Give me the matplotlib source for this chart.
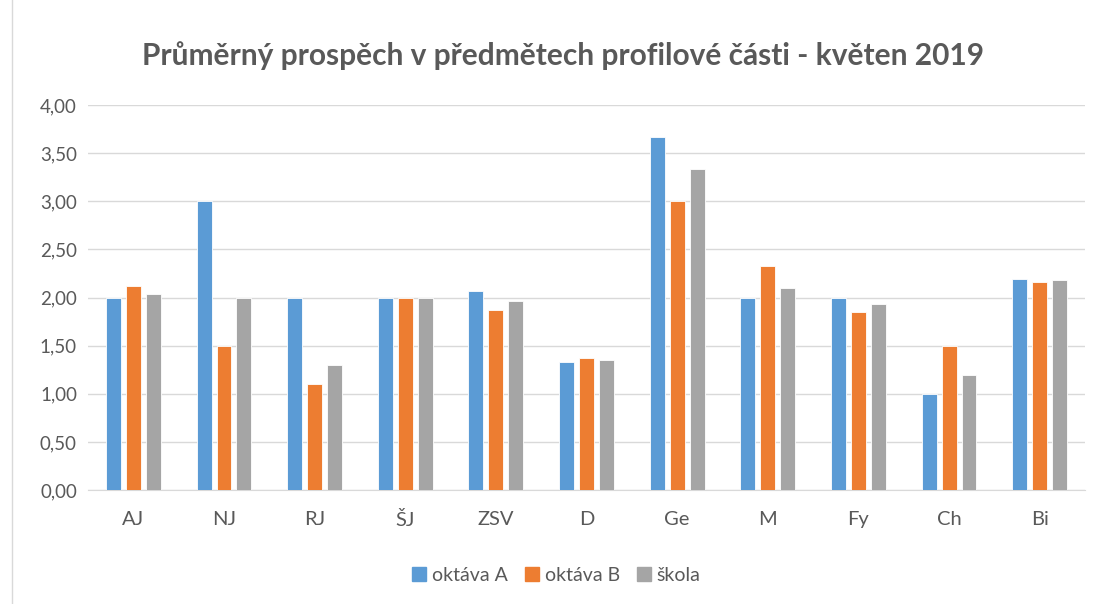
import numpy as np
import matplotlib.pyplot as plt
from matplotlib.lines import Line2D
from matplotlib.ticker import FuncFormatter

plt.rcParams['font.family'] = ['Lato', 'DejaVu Sans']

# data
predmety = ['AJ', 'NJ', 'RJ', 'ŠJ', 'ZSV', 'D', 'Ge', 'M', 'Fy', 'Ch', 'Bi']
oktava_a = [2.00, 3.00, 2.00, 2.00, 2.07, 1.33, 3.67, 2.00, 2.00, 1.00, 2.19]
oktava_b = [2.12, 1.50, 1.10, 2.00, 1.87, 1.37, 3.00, 2.33, 1.85, 1.50, 2.16]
skola = [2.04, 2.00, 1.30, 2.00, 1.96, 1.35, 3.33, 2.10, 1.93, 1.19, 2.18]

serie = [('oktáva A', oktava_a, '#5b9bd5'),
         ('oktáva B', oktava_b, '#ed7d31'),
         ('škola', skola, '#a5a5a5')]

fig = plt.figure(figsize=(11.02, 6.04), dpi=100)
ax = fig.add_axes([0.0799, 0.1887, 0.9047, 0.6375])

x = np.arange(len(predmety))
w = 0.165
step = 0.22
for k, (name, vals, col) in enumerate(serie):
    ax.bar(x + (k - 1) * step, vals, width=w, color=col, label=name,
           edgecolor='white', linewidth=0.6, zorder=3)

ax.set_xlim(-0.5, len(predmety) - 0.5)
ax.set_ylim(0, 4)
ax.set_yticks(np.arange(0, 4.01, 0.5))
ax.yaxis.set_major_formatter(FuncFormatter(lambda v, p: f'{v:.2f}'.replace('.', ',')))
ax.set_xticks(x)
ax.set_xticklabels(predmety)
ax.grid(axis='y', color='#d9d9d9', linewidth=1, zorder=0)
for s in ['top', 'right', 'left']:
    ax.spines[s].set_visible(False)
ax.spines['bottom'].set_color('#d9d9d9')
ax.tick_params(axis='both', length=0, colors='#595959')
ax.tick_params(axis='x', pad=15, labelsize=14.5)
ax.tick_params(axis='y', pad=8, labelsize=13.5)

fig.suptitle('Průměrný prospěch v předmětech profilové části - květen 2019',
             x=0.511, y=0.932, fontsize=21.5, fontweight='bold', color='#595959')

handles = [Line2D([], [], marker='s', linestyle='none', markersize=10,
                  markerfacecolor=c, markeredgecolor=c) for _, _, c in serie]
fig.legend(handles, [n for n, _, _ in serie], loc='center', ncol=3,
           bbox_to_anchor=(0.505, 0.048), frameon=False, fontsize=14,
           handlelength=0.7, handletextpad=0.3, columnspacing=0.9,
           labelcolor='#595959')

# light border of the chart area (left edge visible in the reference)
fig.add_artist(Line2D([0.011, 0.011], [0, 1], color='#d9d9d9', linewidth=1,
                      transform=fig.transFigure))

fig.savefig('out.png', dpi=100)
